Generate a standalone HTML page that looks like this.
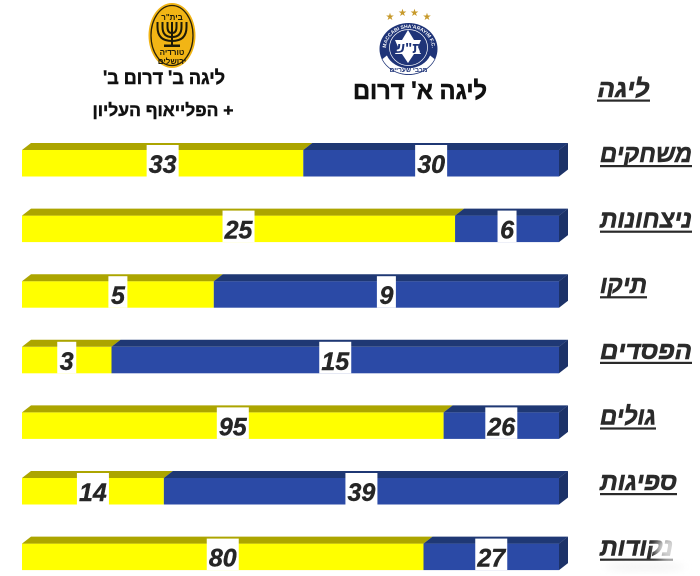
<!DOCTYPE html>
<html lang="he">
<head>
<meta charset="utf-8">
<title>השוואת קבוצות</title>
<style>
html,body{margin:0;padding:0;background:#fff;width:700px;height:576px;overflow:hidden}
svg{display:block}
text{font-family:"Liberation Sans","DejaVu Sans",sans-serif}
</style>
</head>
<body>
<svg id="chart" xmlns="http://www.w3.org/2000/svg" width="700" height="576" viewBox="0 0 700 576">
  <defs>
    <filter id="soft" x="-40%" y="-40%" width="180%" height="180%"><feGaussianBlur stdDeviation="4"/></filter>
    <path id="crest-arc" d="M386 49 A23 21 0 0 1 432 49"/>
  </defs>

  <g>
    <ellipse cx="172" cy="35.500" rx="23.500" ry="32.500" fill="#f2b515"/>
    <ellipse cx="172" cy="35.500" rx="21" ry="30" fill="none" stroke="#2a2208" stroke-width="1.300"/>
    <text x="172" y="20" font-size="8" font-weight="bold" text-anchor="middle" direction="rtl" fill="#1d1a08">בית"ר</text>
    <g fill="none" stroke="#1d1a08" stroke-width="2">
      <path d="M172 22V45"/>
      <path d="M167.500 22V27Q167.500 33 172 33Q176.500 33 176.500 27V22"/>
      <path d="M162.500 22V27Q162.500 37 172 37Q181.500 37 181.500 27V22"/>
      <path d="M157.500 22V27Q157.500 41 172 41Q186.500 41 186.500 27V22"/>
    </g>
    <rect x="164" y="44.500" width="16" height="2.500" fill="#1d1a08"/>
    <text x="172" y="55" font-size="8" font-weight="bold" text-anchor="middle" direction="rtl" fill="#1d1a08">טורדיה</text>
    <text x="172" y="64" font-size="8" font-weight="bold" text-anchor="middle" direction="rtl" fill="#1d1a08">ירושלים</text>
  </g>

  <g>
    <g fill="#c79a2b" font-size="10">
      <text x="390" y="20" text-anchor="middle">★</text>
      <text x="402.500" y="16" text-anchor="middle">★</text>
      <text x="414.500" y="16" text-anchor="middle">★</text>
      <text x="427" y="20" text-anchor="middle">★</text>
    </g>
    <ellipse cx="408.500" cy="49" rx="29" ry="26" fill="#1f3478"/>
    <path d="M382 59 A29 26 0 0 0 435 59 L430 55 A23 20 0 0 1 387 55 Z" fill="#fff" stroke="#1f3478" stroke-width=".6"/>
    <ellipse cx="408.500" cy="47.500" rx="19" ry="18" fill="#1f3478" stroke="#fff" stroke-width=".7"/>
    <path d="M408 30L414 40H421L418 47L421 54H414L408 63L402 54H395L398 47L395 40H402Z" fill="#fff"/>
    <text x="408" y="53" font-size="15" font-weight="bold" text-anchor="middle" direction="rtl" fill="#1f3478">ת"ש</text>
    <text font-size="5" fill="#fff" font-weight="bold"><textPath href="#crest-arc" startOffset="50%" text-anchor="middle">MACCABI SHA'ARAYIM F.C.</textPath></text>
    <text x="408.500" y="72" font-size="6.500" font-weight="bold" text-anchor="middle" direction="rtl" fill="#1f3478">מכבי שעריים</text>
  </g>

  <text x="164" y="84" font-size="19" font-weight="bold" text-anchor="middle" direction="rtl" textLength="122" lengthAdjust="spacingAndGlyphs" fill="#111" stroke="#111" stroke-width=".5">ליגה ב' דרום ב'</text>
  <text x="163" y="116" font-size="17" font-weight="bold" text-anchor="middle" direction="rtl" textLength="141" lengthAdjust="spacingAndGlyphs" fill="#111" stroke="#111" stroke-width=".5">+ הפלייאוף העליון</text>
  <text x="420" y="99" font-size="25" font-weight="bold" text-anchor="middle" direction="rtl" textLength="134" lengthAdjust="spacingAndGlyphs" fill="#111" stroke="#111" stroke-width=".6">ליגה א' דרום</text>

  <g id="heading">
    <text x="623.500" y="97" font-size="25" font-weight="bold" font-style="italic" text-anchor="middle" direction="rtl" textLength="52" lengthAdjust="spacingAndGlyphs" fill="#2a2a2a" stroke="#2a2a2a" stroke-width=".6">ליגה</text>
    <rect x="597" y="99.500" width="53" height="2.200" fill="#2a2a2a"/>
  </g>

  <g id="rows"></g>

  <ellipse cx="672" cy="549" rx="17" ry="13" fill="#fff" opacity=".8" filter="url(#soft)"/>
  <ellipse cx="645" cy="567" rx="40" ry="4" fill="#e9e9e9" opacity=".55" filter="url(#soft)"/>
</svg>

<script>
const categories = ["משחקים", "ניצחונות", "תיקו", "הפסדים", "גולים", "ספיגות", "נקודות"];
const teamAValues = [33, 25, 5, 3, 95, 14, 80];
const teamBValues = [30, 6, 9, 15, 26, 39, 27];
const categoryLabelWidths = [92, 92, 47, 92, 56, 77, 73];

const NS = "http://www.w3.org/2000/svg";
const rowsGroup = document.getElementById("rows");
const plotLeft = 22;
const plotRight = 559;
const depthX = 9;
const depthY = 7;
const frontHeight = 26.5;

function xScale(fraction) {
  return plotLeft + fraction * (plotRight - plotLeft);
}
function rowTop(index) {
  return 143 + index * 65.6;
}
function make(tag, attrs, parent) {
  const el = document.createElementNS(NS, tag);
  for (const key in attrs) el.setAttribute(key, attrs[key]);
  parent.appendChild(el);
  return el;
}
function facet(points, fill, parent) {
  return make("polygon", { points: points.map(p => p.join(",")).join(" "), fill: fill }, parent);
}
function valueLabel(value, center, top, parent) {
  const text = String(value);
  const boxWidth = text.length > 1 ? 32 : 19;
  const box = make("rect", { x: center - boxWidth / 2, y: top + 2, width: boxWidth, height: depthY + frontHeight - 2, fill: "#fff" }, parent);
  
  
  const label = make("text", { x: center, y: top + 30, "font-size": 25, "font-weight": "bold", "font-style": "italic", "text-anchor": "middle", fill: "#262626", stroke: "#262626", "stroke-width": 0.4 }, parent);
  
  
  label.textContent = text;
}

categories.forEach((category, i) => {
  const a = teamAValues[i];
  const b = teamBValues[i];
  const split = xScale(a / (a + b));
  const top = rowTop(i);
  const front = top + depthY;
  const bottom = front + frontHeight;

  const row = make("g", {}, rowsGroup);
  
  

  const yellowFront = make("rect", { x: plotLeft, y: front, width: split - plotLeft, height: frontHeight, fill: "#ffff00" }, row);
  
  
  const yellowTop = facet([[plotLeft, front], [plotLeft + depthX, top], [split + depthX, top], [split, front]], "#aca500", row);
  
  

  const blueFront = make("rect", { x: split, y: front, width: plotRight - split, height: frontHeight, fill: "#2b4aa6" }, row);
  
  
  const blueTop = facet([[split, front], [split + depthX, top], [plotRight + depthX, top], [plotRight, front]], "#1f3874", row);
  
  
  const blueSide = facet([[plotRight, front], [plotRight + depthX, top], [plotRight + depthX, bottom - depthY], [plotRight, bottom]], "#1c3268", row);
  
  

  valueLabel(a, (plotLeft + split) / 2, top, row);
  valueLabel(b, (split + plotRight) / 2, top, row);

  const labelWidth = categoryLabelWidths[i];
  const name = make("text", { x: 600 + labelWidth / 2, y: top + 19, "font-size": 25, "font-weight": "bold", "font-style": "italic", "text-anchor": "middle", direction: "rtl", textLength: labelWidth, lengthAdjust: "spacingAndGlyphs", fill: "#2a2a2a", stroke: "#2a2a2a", "stroke-width": 0.6 }, row);
  
  
  name.textContent = category;
  const rule = make("rect", { x: 600, y: top + 22, width: labelWidth, height: 2.2, fill: "#2a2a2a" }, row);
  
  
});
</script>
</body>
</html>
